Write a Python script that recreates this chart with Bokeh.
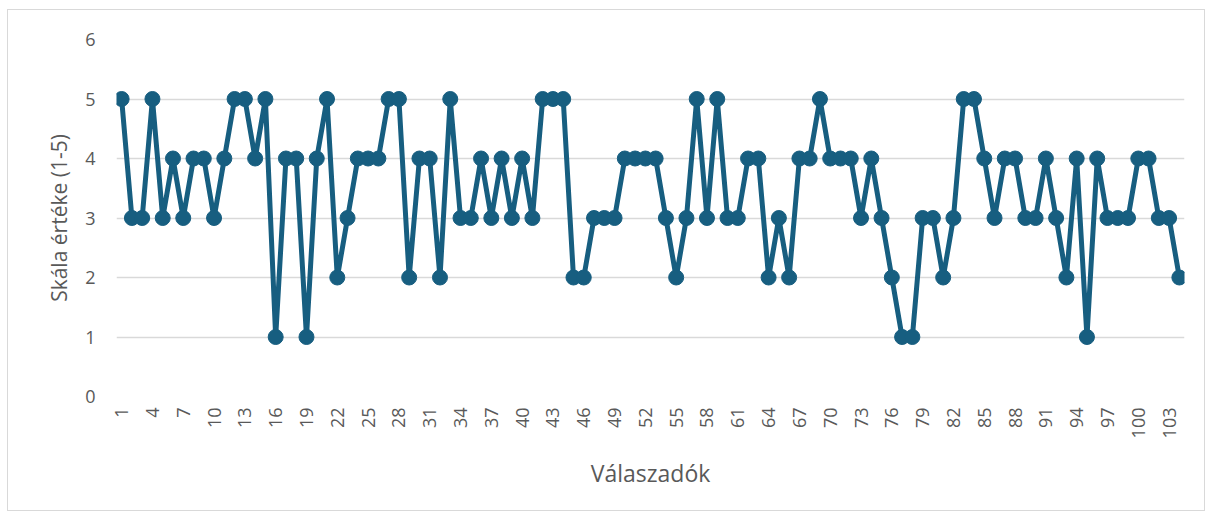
import math
from bokeh.plotting import figure
from bokeh.models import FixedTicker, Range1d
from bokeh.embed import file_html
from bokeh.resources import INLINE

respondents = list(range(1, 105))
values = [5, 3, 3, 5, 3, 4, 3, 4, 4, 3,
          4, 5, 5, 4, 5, 1, 4, 4, 1, 4,
          5, 2, 3, 4, 4, 4, 5, 5, 2, 4,
          4, 2, 5, 3, 3, 4, 3, 4, 3, 4,
          3, 5, 5, 5, 2, 2, 3, 3, 3, 4,
          4, 4, 4, 3, 2, 3, 5, 3, 5, 3,
          3, 4, 4, 2, 3, 2, 4, 4, 5, 4,
          4, 4, 3, 4, 3, 2, 1, 1, 3, 3,
          2, 3, 5, 5, 4, 3, 4, 4, 3, 3,
          4, 3, 2, 4, 1, 4, 3, 3, 3, 4,
          4, 3, 3, 2]
x_ticks = list(range(1, 105, 3))
y_ticks = [0, 1, 2, 3, 4, 5, 6]

FONT = "Open Sans"
TXT = "#595959"
LINE = "#175e80"

p = figure(width=1198, height=502, output_backend="svg", toolbar_location=None,
           x_range=Range1d(0.5, 104.5), y_range=Range1d(0, 6),
           min_border_left=108, min_border_right=22, min_border_top=29, min_border_bottom=116)
p.styles = {"border": "1px solid #d9d9d9", "box-sizing": "border-box",
            "margin-left": "7px", "margin-top": "9px"}
p.outline_line_color = None

p.line(respondents, values, line_color=LINE, line_width=5)
p.scatter(respondents, values, size=15, fill_color=LINE, line_color=LINE)

p.xgrid.grid_line_color = None
p.ygrid.grid_line_color = "#d9d9d9"
p.ygrid.grid_line_width = 1.3

p.xaxis.ticker = FixedTicker(ticks=x_ticks)
p.yaxis.ticker = FixedTicker(ticks=y_ticks)
p.xaxis.major_label_orientation = math.pi / 2
for ax in (p.xaxis, p.yaxis):
    ax.axis_line_color = None
    ax.major_tick_line_color = None
    ax.minor_tick_line_color = None
    ax.major_label_text_font = FONT
    ax.major_label_text_font_size = "18px"
    ax.major_label_text_color = TXT
    ax.axis_label_text_font = FONT
    ax.axis_label_text_font_style = "normal"
    ax.axis_label_text_color = TXT

p.xaxis.major_label_standoff = 5
p.yaxis.major_label_standoff = 15
p.xaxis.axis_label = "Válaszadók"
p.xaxis.axis_label_text_font_size = "23px"
p.xaxis.axis_label_standoff = 16
p.yaxis.axis_label = "Skála értéke (1-5)"
p.yaxis.axis_label_text_font_size = "21px"
p.yaxis.axis_label_standoff = 9

open("out.html", "w").write(file_html(p, INLINE))
